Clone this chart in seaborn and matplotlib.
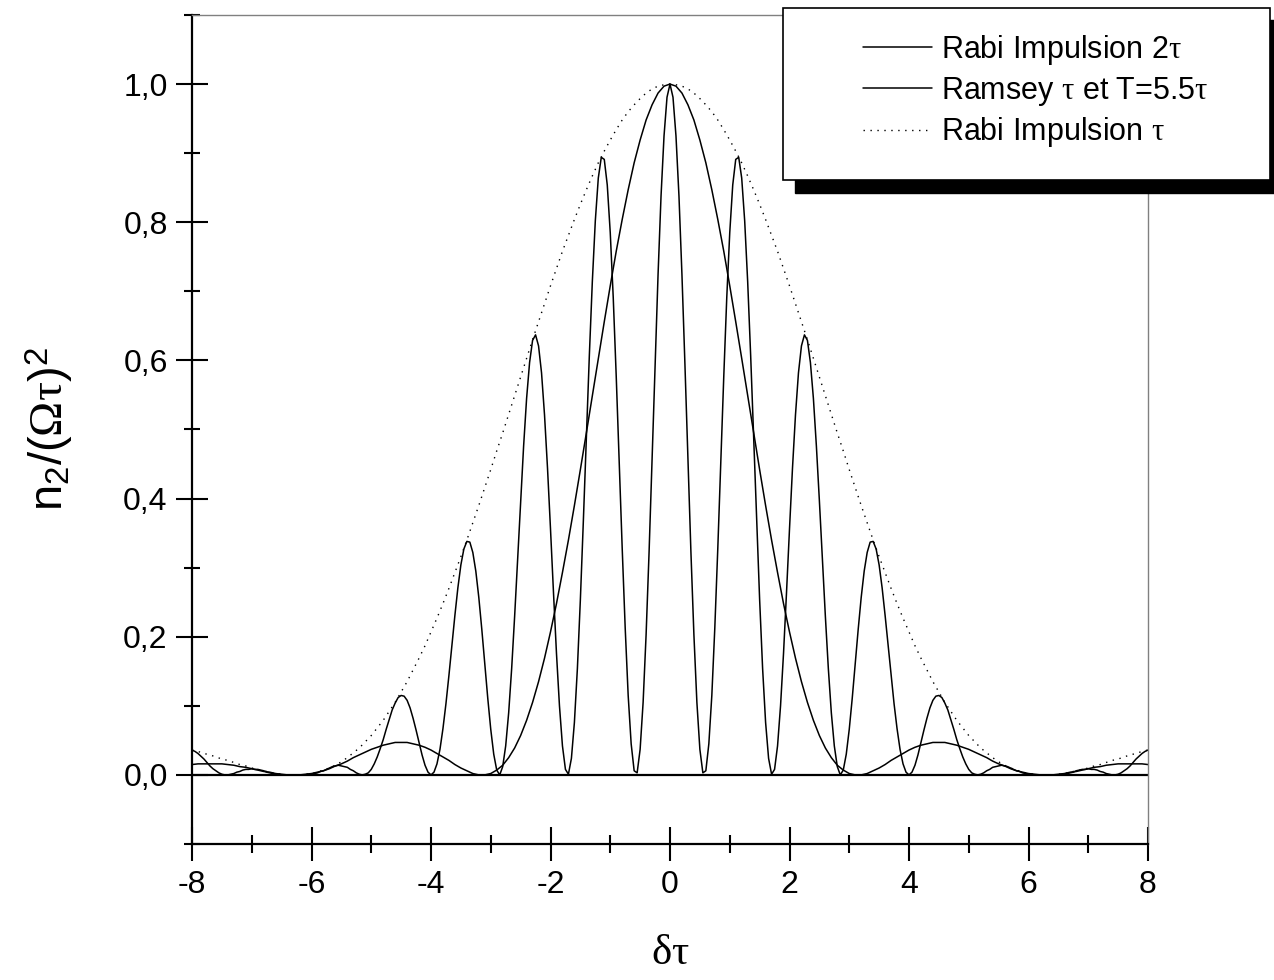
import numpy as np
import pandas as pd
import matplotlib
matplotlib.use("Agg")
import matplotlib.pyplot as plt
import seaborn as sns
from matplotlib.ticker import MultipleLocator, FuncFormatter
from matplotlib.lines import Line2D
from matplotlib.patches import Rectangle

# ---- data (curves are symmetric in delta*tau; values read on the half 0..8) ----
# Ramsey tau et T=5.5tau, sampled every 0.05 from 0 to 8
ramsey_step = 0.05
ramsey = [1.000, 0.981, 0.925, 0.838, 0.724, 0.594, 0.457, 0.323, 0.203, 0.105,
          0.037, 0.003, 0.006, 0.045, 0.115, 0.213, 0.328, 0.453, 0.577, 0.691,
          0.785, 0.854, 0.891, 0.894, 0.864, 0.802, 0.714, 0.607, 0.488, 0.368,
          0.254, 0.154, 0.076, 0.024, 0.001, 0.008, 0.042, 0.100, 0.176, 0.264,
          0.356, 0.444, 0.521, 0.582, 0.621, 0.637, 0.629, 0.597, 0.545,
          0.476, 0.397, 0.313, 0.230, 0.154, 0.090, 0.042, 0.012, 0.000, 0.007,
          0.030, 0.066, 0.111, 0.161, 0.211, 0.257, 0.295, 0.322, 0.337, 0.338,
          0.327, 0.304, 0.271, 0.231, 0.188, 0.144, 0.103, 0.067, 0.037, 0.016,
          0.004, 0.000, 0.004, 0.014, 0.029, 0.047, 0.065, 0.082, 0.097, 0.108,
          0.114, 0.115, 0.112, 0.104, 0.094, 0.080, 0.066, 0.051, 0.038, 0.026,
          0.016, 0.008, 0.003, 0.001, 0.000, 0.001, 0.003, 0.006, 0.008, 0.011,
          0.012, 0.013, 0.014, 0.013, 0.012, 0.010, 0.008, 0.006, 0.005, 0.003,
          0.002, 0.001, 0.001, 0.000, 0.000, 0.000, 0.000, 0.000, 0.000, 0.000,
          0.000, 0.000, 0.001, 0.001, 0.002, 0.003, 0.004, 0.006, 0.007, 0.008,
          0.008, 0.009, 0.008, 0.008, 0.007, 0.005, 0.004, 0.002, 0.001, 0.000,
          0.000, 0.001, 0.003, 0.006, 0.009, 0.013, 0.018, 0.023, 0.027, 0.031,
          0.034, 0.036]
# Rabi impulsion tau and 2tau, sampled every 0.1 from 0 to 8
rabi_step = 0.1
rabi_tau = [1.000, 0.999, 0.997, 0.993, 0.987, 0.979, 0.970, 0.960, 0.948, 0.934,
            0.919, 0.903, 0.886, 0.867, 0.847, 0.826, 0.804, 0.781, 0.758, 0.733,
            0.708, 0.682, 0.656, 0.630, 0.603, 0.576, 0.549, 0.522, 0.495, 0.469,
            0.442, 0.416, 0.390, 0.365, 0.340, 0.316, 0.293, 0.270, 0.248, 0.227,
            0.207, 0.187, 0.169, 0.152, 0.135, 0.120, 0.105, 0.092, 0.079, 0.068,
            0.057, 0.048, 0.039, 0.032, 0.025, 0.019, 0.014, 0.010, 0.007, 0.004,
            0.002, 0.001, 0.000, 0.000, 0.000, 0.001, 0.002, 0.004, 0.006, 0.008,
            0.010, 0.013, 0.015, 0.018, 0.021, 0.023, 0.026, 0.029, 0.031, 0.034,
            0.036]
rabi_2tau = [1.000, 0.997, 0.987, 0.970, 0.948, 0.919, 0.886, 0.847, 0.804, 0.758,
             0.708, 0.656, 0.603, 0.549, 0.495, 0.442, 0.390, 0.340, 0.293, 0.248,
             0.207, 0.169, 0.135, 0.105, 0.079, 0.057, 0.039, 0.025, 0.014, 0.007,
             0.002, 0.000, 0.000, 0.002, 0.006, 0.010, 0.015, 0.021, 0.026, 0.031,
             0.036, 0.040, 0.043, 0.045, 0.047, 0.047, 0.047, 0.045, 0.043, 0.040,
             0.037, 0.033, 0.029, 0.025, 0.020, 0.016, 0.013, 0.009, 0.006, 0.004,
             0.002, 0.001, 0.000, 0.000, 0.000, 0.001, 0.002, 0.004, 0.005, 0.007,
             0.009, 0.011, 0.012, 0.014, 0.015, 0.016, 0.016, 0.016, 0.016, 0.016,
             0.015]
series_labels = [r"Rabi Impulsion 2$\mathrm{\tau}$",
                 r"Ramsey $\mathrm{\tau}$ et T=5.5$\mathrm{\tau}$",
                 r"Rabi Impulsion $\mathrm{\tau}$"]
x_ticks = [-8, -6, -4, -2, 0, 2, 4, 6, 8]
y_ticks = [0.0, 0.2, 0.4, 0.6, 0.8, 1.0]


def full_curve(values, step):
    v = np.asarray(values)
    x = np.arange(len(v)) * step
    return np.concatenate([-x[:0:-1], x]), np.concatenate([v[:0:-1], v])


xr, yr = full_curve(ramsey, ramsey_step)
x1, y1 = full_curve(rabi_tau, rabi_step)
x2, y2 = full_curve(rabi_2tau, rabi_step)
df_r = pd.DataFrame({"x": xr, "y": yr})
df_1 = pd.DataFrame({"x": x1, "y": y1})
df_2 = pd.DataFrame({"x": x2, "y": y2})

sns.set_theme(style="white")
plt.rcParams['font.family'] = ['Liberation Sans', 'DejaVu Sans']
plt.rcParams['mathtext.fontset'] = 'custom'
plt.rcParams['mathtext.rm'] = 'Liberation Serif'
plt.rcParams['mathtext.sf'] = 'Liberation Sans'
plt.rcParams['mathtext.it'] = 'Liberation Serif:italic'

fig = plt.figure(figsize=(12.74, 9.8), dpi=100)
ax = fig.add_axes([192/1274, 1-844/980, (1148-192)/1274, (844-15)/980])

sns.lineplot(data=df_2, x="x", y="y", ax=ax, color='black', linewidth=1.1, sort=False, estimator=None)
sns.lineplot(data=df_r, x="x", y="y", ax=ax, color='black', linewidth=1.1, sort=False, estimator=None)
sns.lineplot(data=df_1, x="x", y="y", ax=ax, color='black', linewidth=1.0, sort=False, estimator=None)
ax.lines[-1].set_dashes((1, 4))
ax.axhline(0, color='black', linewidth=1.6, zorder=1)

ax.set_xlim(-8, 8)
ax.set_ylim(-0.1, 1.1)
ax.set_xticks(x_ticks)
ax.set_yticks(y_ticks)
ax.xaxis.set_minor_locator(MultipleLocator(1))
ax.yaxis.set_minor_locator(MultipleLocator(0.1))
ax.yaxis.set_major_formatter(FuncFormatter(lambda v, p: f"{abs(v):.1f}".replace('.', ',') if abs(v) < 1e-9 else f"{v:.1f}".replace('.', ',')))
ax.xaxis.set_major_formatter(FuncFormatter(lambda v, p: f"{v:.0f}"))
ax.tick_params(axis='both', which='both', direction='inout', width=1.5, color='black',
               labelsize=23, labelcolor='black', top=False, right=False, bottom=True, left=True)
ax.tick_params(axis='y', which='major', length=23, pad=6)
ax.tick_params(axis='y', which='minor', length=11.5)
ax.tick_params(axis='x', which='major', length=24, pad=6.5)
ax.tick_params(axis='x', which='minor', length=13.5)
for s in ['left', 'bottom']:
    ax.spines[s].set_color('black'); ax.spines[s].set_linewidth(1.6)
for s in ['top', 'right']:
    ax.spines[s].set_color('#808080'); ax.spines[s].set_linewidth(1.0)

ax.set_xlabel(r"$\mathrm{\delta\tau}$", fontsize=31, labelpad=24, color='black')
ax.set_ylabel(r"n$_\mathsf{2}$/($\mathrm{\Omega\tau}$)$^\mathsf{2}$", fontsize=34, labelpad=34, color='black')

# legend box with its black shadow
fig.patches.append(Rectangle((795/1274, 1-193/980), 600/1274, (193-20)/980, transform=fig.transFigure,
                             facecolor='black', edgecolor='black', zorder=3))
fig.patches.append(Rectangle((783/1274, 1-180/980), (1270-783)/1274, (180-8)/980, transform=fig.transFigure,
                             facecolor='white', edgecolor='black', linewidth=1.2, zorder=4))
handles = [Line2D([], [], color='black', lw=1.1),
           Line2D([], [], color='black', lw=1.1),
           Line2D([], [], color='black', lw=1.0, dashes=(1, 4))]
leg = fig.legend(handles, series_labels, loc='upper left', bbox_to_anchor=(863/1274, 1-33/980), frameon=False,
                 fontsize=22, handlelength=2.25, handletextpad=0.3, labelspacing=0.25, borderpad=0, borderaxespad=0)
for t in leg.get_texts():
    t.set_color('black')
leg.set_zorder(5)

fig.savefig("out.png", dpi=100)
